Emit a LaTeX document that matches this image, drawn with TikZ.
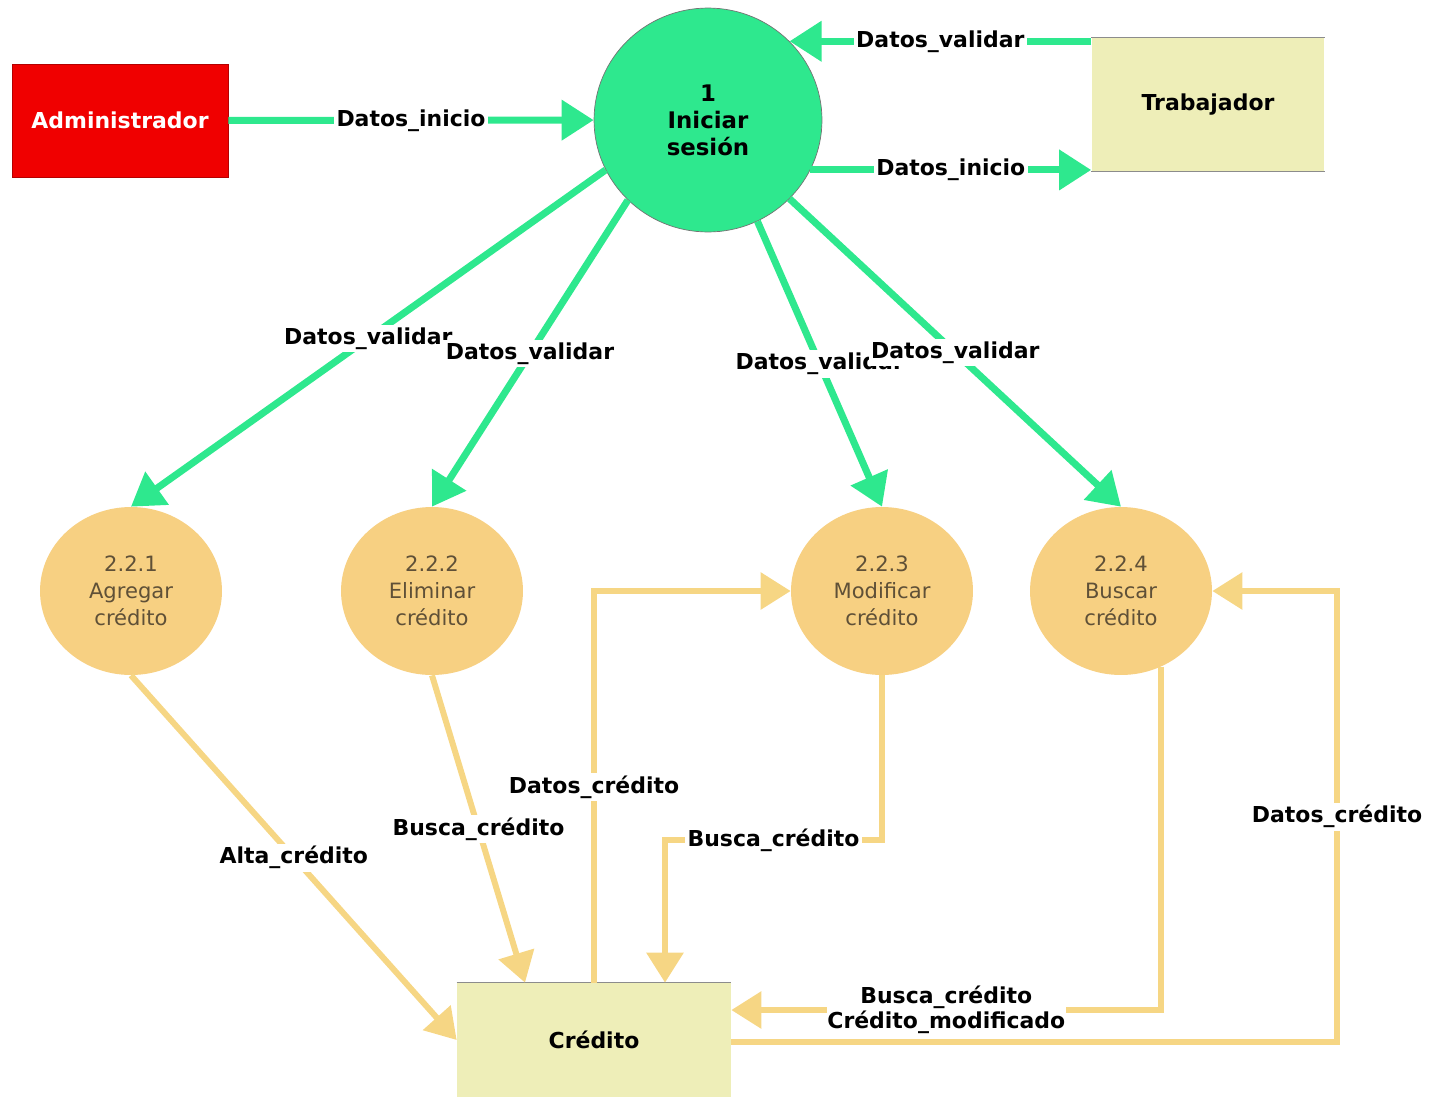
\documentclass[tikz,border=0pt]{standalone}
\usepackage{fontspec}
\setmainfont{DejaVu Sans}
\usetikzlibrary{arrows.meta, positioning, shapes.geometric}

\definecolor{verde}{RGB}{46,232,142}
\definecolor{naranja}{RGB}{247,208,130}
\definecolor{flujonar}{RGB}{246,214,132}
\definecolor{almacen}{RGB}{238,238,184}
\definecolor{rojo}{RGB}{240,0,0}
\definecolor{textonar}{RGB}{95,80,55}

\tikzset{
  externa/.style={rectangle, fill=rojo, draw=rojo!75!black, minimum width=4.32cm, minimum height=2.26cm,
    text=white, font=\bfseries\fontsize{12.5}{15}\selectfont},
  proceso/.style={ellipse, fill=verde, draw=black!55, minimum width=4.56cm, minimum height=4.48cm,
    align=center, inner sep=0pt, font=\bfseries\fontsize{13}{15.4}\selectfont},
  subproc/.style={ellipse, fill=naranja, minimum width=3.64cm, minimum height=3.36cm,
    align=center, inner sep=0pt, text=textonar, font=\fontsize{12}{15.4}\selectfont},
  almac/.style={rectangle, fill=almacen, font=\bfseries\fontsize{12.5}{15}\selectfont},
  flujo/.style={line width=4pt, verde, -{Triangle[length=0.64cm,width=0.78cm]}},
  flujob/.style={line width=3.4pt, flujonar, -{Triangle[length=0.6cm,width=0.72cm]}},
  lbl/.style={fill=white, inner sep=1.5pt, text=black, font=\bfseries\fontsize{12.5}{14.4}\selectfont},
}

\begin{document}
\begin{tikzpicture}[x=0.02cm, y=-0.02cm]
        \useasboundingbox (0,0) rectangle (1429,1096);

        \node[externa] (adm) at (120,120.5) {Administrador};
        \node[proceso] (ini) at (708,120) {1\\Iniciar\\sesión};
        \node[almac, minimum width=4.66cm, minimum height=2.66cm] (trab) at (1208,104.5) {Trabajador};
        \node[subproc] (p1) at (131,591) {2.2.1\\Agregar\\crédito};
        \node[subproc] (p2) at (432,591) {2.2.2\\Eliminar\\crédito};
        \node[subproc] (p3) at (882,591) {2.2.3\\Modificar\\crédito};
        \node[subproc] (p4) at (1121,591) {2.2.4\\Buscar\\crédito};
        \node[almac, minimum width=5.48cm, minimum height=2.28cm] (cred) at (594,1040) {Crédito};
        \coordinate (codo) at (665,840);
        \coordinate (esq) at (1337,591);

        % bordes de los almacenes
        \draw[black!45, line width=0.8pt]
                (trab.north west) -- (trab.north east)
                (trab.south west) -- (trab.south east)
                (cred.north west) -- (cred.north east);

        % flujos verdes
        \draw[flujo] (adm) -- node[lbl]{Datos\_inicio} (ini);
        \draw[flujo] (trab.north west |- ini.44) -- node[lbl]{Datos\_validar} (ini.44);
        \draw[flujo] (ini.-26) -- node[lbl]{Datos\_inicio} (ini.-26 -| trab.west);
        \draw[flujo] (ini.206) -- node[lbl]{Datos\_validar} (p1.north);
        \draw[flujo] (ini.225) -- node[lbl]{Datos\_validar} (p2.north);
        \draw[flujo] (ini.-64) -- node[lbl]{Datos\_validar} (p3.north);
        \draw[flujo] (ini.-44) -- node[lbl]{Datos\_validar} (p4.north);

        % flujos naranja
        \draw[flujob] (p1.south) -- node[lbl]{Alta\_crédito} (cred.west);
        \draw[flujob] (p2.south) -- node[lbl]{Busca\_crédito} ([xshift=-1.38cm]cred.north);
        \draw[flujob] (cred.north) -- node[lbl]{Datos\_crédito} (cred.north |- p3.west) -- (p3.west);
        \draw[flujob] (p3.south) |- node[lbl, pos=0.75]{Busca\_crédito} (codo) -- (codo |- cred.north);
        \draw[flujob] (p4.-62) |- node[lbl, pos=0.75, align=center, inner sep=0.5pt]{Busca\_crédito\\Crédito\_modificado}
                ([yshift=0.6cm]cred.east);
        \draw[flujob] ([yshift=-0.04cm]cred.east) -| node[lbl, pos=0.75]{Datos\_crédito} (esq) -- (p4.east);
\end{tikzpicture}
\end{document}
